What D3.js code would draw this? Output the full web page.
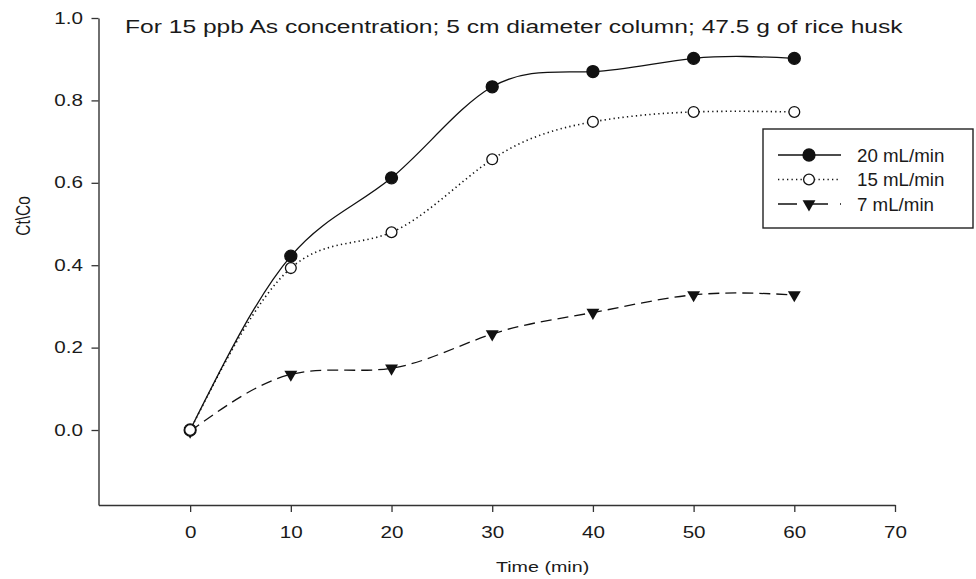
<!DOCTYPE html>
<html>
<head>
<meta charset="utf-8">
<script src="https://cdn.jsdelivr.net/npm/d3@7"></script>
<style>
  body { margin: 0; background: #fff; }
  svg text { font-family: "Liberation Sans", Arial, sans-serif; fill: #1a1a1a; }
</style>
</head>
<body>
<div id="drawing"></div>
<script>
const width = 976;
const height = 579;
// the original picture is stretched sideways, so text gets scaled in x
const stretch = 1.29;

// data
const times = [0, 10, 20, 30, 40, 50, 60];
const flow20 = [0.00, 0.422, 0.612, 0.833, 0.870, 0.902, 0.902];
const flow15 = [0.00, 0.393, 0.480, 0.657, 0.748, 0.772, 0.772];
const flow7 = [-0.003, 0.135, 0.150, 0.233, 0.285, 0.328, 0.328];
const seriesNames = ["20 mL/min", "15 mL/min", "7 mL/min"];
const xTicks = [0, 10, 20, 30, 40, 50, 60, 70];
const yTicks = [0.0, 0.2, 0.4, 0.6, 0.8, 1.0];
const title = "For 15 ppb As concentration; 5 cm diameter column; 47.5 g of rice husk";

const series = [
  {name: seriesNames[0], values: flow20, marker: "filled", dash: null},
  {name: seriesNames[1], values: flow15, marker: "open", dash: "1.3,3.2"},
  {name: seriesNames[2], values: flow7, marker: "triangle", dash: "11,6"}
];

const svg = d3.select("#drawing").append("svg")
  .attr("width", width)
  .attr("height", height);

const xScale = d3.scaleLinear().domain([-9.1, 70]).range([98.5, 895]);
const yScale = d3.scaleLinear().domain([-0.182, 1.0]).range([505, 18]);

// axes
const xAxis = svg.append("g")
  .attr("transform", `translate(0,${yScale(-0.182)})`)
  .call(d3.axisBottom(xScale).tickValues(xTicks).tickSize(7).tickSizeOuter(0).tickPadding(4));
const yAxis = svg.append("g")
  .attr("transform", `translate(${xScale(-9.1)},0)`)
  .call(d3.axisLeft(yScale).tickValues(yTicks).tickFormat(d3.format(".1f")).tickSize(7).tickSizeOuter(0));

[xAxis, yAxis].forEach(ax => {
  ax.select(".domain").attr("stroke", "#333").attr("stroke-width", 1.4);
  ax.selectAll(".tick line").attr("stroke", "#333").attr("stroke-width", 1.3);
  ax.selectAll("text").style("font-size", "16px").attr("fill", "#1a1a1a")
    .style("font-family", "'Liberation Sans', Arial, sans-serif");
});
xAxis.selectAll("text").attr("transform", `scale(${stretch},1)`).attr("y", 22).attr("dy", "0.71em");
yAxis.selectAll("text").attr("x", -15.5 / stretch).attr("transform", `scale(${stretch},1)`);

function stretchedText(x, y, str, size, sx, anchor, rotate) {
  const g = svg.append("g")
    .attr("transform", `translate(${x},${y}) scale(${sx},1)` + (rotate ? ` rotate(${rotate})` : ""));
  return g.append("text")
    .attr("text-anchor", anchor)
    .style("font-size", size + "px")
    .text(str);
}

stretchedText(125, 33, title, 18.5, 1.33, "start");
stretchedText(xScale(35), 572, "Time (min)", 15.5, 1.27, "middle");
stretchedText(30, 216, "Ct\\Co", 15.5, 1.3, "middle", -90);

// lines
const line = d3.line()
  .x((d, i) => xScale(times[i]))
  .y(d => yScale(d))
  .curve(d3.curveNatural);

function drawMarker(g, type, cx, cy) {
  if (type === "triangle") {
    g.append("path")
      .attr("d", d3.symbol().type(d3.symbolTriangle).size(72)())
      .attr("transform", `translate(${cx},${cy}) rotate(180)`)
      .attr("fill", "#111");
  } else {
    g.append("circle")
      .attr("cx", cx).attr("cy", cy)
      .attr("r", type === "filled" ? 6 : 5.4)
      .attr("fill", type === "filled" ? "#111" : "#fff")
      .attr("stroke", "#111")
      .attr("stroke-width", 1.3);
  }
}

series.forEach(s => {
  svg.append("path")
    .datum(s.values)
    .attr("d", line)
    .attr("fill", "none")
    .attr("stroke", "#111")
    .attr("stroke-width", s.marker === "open" ? 1.6 : 1.3)
    .attr("stroke-dasharray", s.dash);
});
// markers drawn on top, triangles first like the original stacking
[series[2], series[0], series[1]].forEach(s => {
  const g = svg.append("g");
  s.values.forEach((v, i) => drawMarker(g, s.marker, xScale(times[i]), yScale(v)));
});

// legend
const legend = svg.append("g");
legend.append("rect")
  .attr("x", 763).attr("y", 129)
  .attr("width", 210).attr("height", 99)
  .attr("fill", "#fff")
  .attr("stroke", "#222")
  .attr("stroke-width", 1.4);

const rowY = [155, 179.5, 204];
series.forEach((s, i) => {
  const y = rowY[i];
  legend.append("line")
    .attr("x1", 778).attr("x2", 841)
    .attr("y1", y).attr("y2", y)
    .attr("stroke", "#111")
    .attr("stroke-width", s.marker === "open" ? 1.6 : 1.3)
    .attr("stroke-dasharray", s.dash ? (s.marker === "triangle" ? "19,12" : s.dash) : null);
  drawMarker(legend, s.marker, 809, y);
  const g = legend.append("g").attr("transform", `translate(857,${y + 6.5}) scale(1.07,1)`);
  g.append("text").style("font-size", "17.5px").text(s.name);
});
</script>
</body>
</html>
